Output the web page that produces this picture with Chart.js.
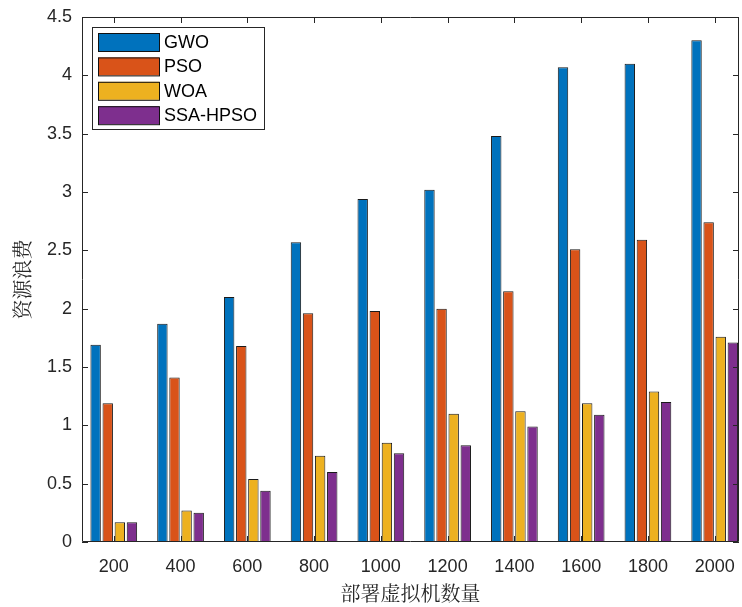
<!DOCTYPE html>
<html>
<head>
<meta charset="utf-8">
<script src="https://cdn.jsdelivr.net/npm/chart.js@4/dist/chart.umd.min.js"></script>
<style>
html,body{margin:0;padding:0;background:#fff;}
#wrap{width:742px;height:607px;}
</style>
</head>
<body>
<div id="wrap"><canvas id="c" width="742" height="607"></canvas></div>
<script>
const categories = [200, 400, 600, 800, 1000, 1200, 1400, 1600, 1800, 2000];
const seriesNames = ['GWO', 'PSO', 'WOA', 'SSA-HPSO'];
const gwo = [1.69, 1.87, 2.10, 2.57, 2.94, 3.02, 3.48, 4.07, 4.10, 4.30];
const pso = [1.19, 1.41, 1.68, 1.96, 1.98, 2.00, 2.15, 2.51, 2.59, 2.74];
const woa = [0.17, 0.27, 0.54, 0.74, 0.85, 1.10, 1.12, 1.19, 1.29, 1.76];
const ssa = [0.17, 0.25, 0.44, 0.60, 0.76, 0.83, 0.99, 1.09, 1.20, 1.71];
const yTicks = [0, 0.5, 1, 1.5, 2, 2.5, 3, 3.5, 4, 4.5];
const colors = ['#0072BD', '#D95319', '#EDB120', '#7E2F8E'];
const yTitle = '资源浪费';
const xTitle = '部署虚拟机数量';

const allSeries = [gwo, pso, woa, ssa];
const TEXT = '#262626';
const FONT = '"Liberation Sans", Arial, Helvetica, sans-serif';
const CJK = '"Noto Serif CJK SC", "Noto Sans CJK SC", serif';

const boxPlugin = {
  id: 'matlabBox',
  afterDraw(chart) {
    const {ctx, chartArea: a, scales} = chart;
    ctx.save();
    ctx.strokeStyle = TEXT;
    ctx.lineWidth = 1;
    ctx.beginPath();
    ctx.rect(a.left + 0.5, a.top + 0.5, a.right - a.left - 1, a.bottom - a.top - 1);
    ctx.stroke();
    const tl = 6;
    ctx.beginPath();
    scales.y.ticks.forEach(t => {
      const py = Math.round(scales.y.getPixelForValue(t.value)) + 0.5;
      ctx.moveTo(a.left, py); ctx.lineTo(a.left + tl, py);
      ctx.moveTo(a.right, py); ctx.lineTo(a.right - tl, py);
    });
    scales.x.ticks.forEach(t => {
      const px = Math.round(scales.x.getPixelForValue(t.value)) + 0.5;
      ctx.moveTo(px, a.bottom); ctx.lineTo(px, a.bottom - tl);
      ctx.moveTo(px, a.top); ctx.lineTo(px, a.top + tl);
    });
    ctx.stroke();

    // legend
    const lx = a.left + 10, ly = a.top + 10;
    const lw = 172, lh = 102;
    ctx.fillStyle = '#fff';
    ctx.fillRect(lx, ly, lw, lh);
    ctx.strokeStyle = TEXT;
    ctx.strokeRect(lx + 0.5, ly + 0.5, lw, lh);
    ctx.font = '18px ' + FONT;
    ctx.textBaseline = 'middle';
    ctx.textAlign = 'left';
    chart.data.datasets.forEach((ds, i) => {
      const sy = ly + 6 + i * 24.4;
      ctx.fillStyle = ds.backgroundColor;
      ctx.fillRect(lx + 6, sy, 61, 18);
      ctx.strokeStyle = '#111';
      ctx.strokeRect(lx + 6.5, sy + 0.5, 61, 18);
      ctx.fillStyle = '#000';
      ctx.fillText(ds.label, lx + 72, sy + 10);
    });
    ctx.restore();
  }
};

new Chart(document.getElementById('c'), {
  type: 'bar',
  data: {
    datasets: allSeries.map((vals, i) => ({
      label: seriesNames[i],
      data: categories.map((c, j) => ({x: c, y: vals[j]})),
      backgroundColor: colors[i],
      borderColor: '#1a1a1a',
      borderWidth: 1,
      borderSkipped: 'bottom',
      categoryPercentage: 0.725,
      barPercentage: 0.86
    }))
  },
  options: {
    responsive: false,
    animation: false,
    events: [],
    layout: {padding: {left: 0, top: 17, right: 3, bottom: 0}},
    plugins: {legend: {display: false}, tooltip: {enabled: false}},
    scales: {
      x: {
        type: 'linear',
        offset: false,
        min: 104.8,
        max: 2072.8,
        afterBuildTicks(scale) { scale.ticks = categories.map(v => ({value: v})); },
        afterFit(scale) { scale.height = 65; scale.paddingLeft = 0; scale.paddingRight = 0; },
        grid: {display: false, drawTicks: false, offset: false},
        border: {display: false},
        ticks: {
          color: TEXT,
          font: {family: FONT, size: 18},
          padding: 14,
          maxRotation: 0,
          autoSkip: false,
          callback: v => String(v)
        },
        title: {
          display: true,
          text: xTitle,
          color: TEXT,
          font: {family: CJK, size: 20},
          padding: {top: 0, bottom: 2}
        }
      },
      y: {
        min: 0,
        max: 4.5,
        afterBuildTicks(scale) { scale.ticks = yTicks.map(v => ({value: v})); },
        afterFit(scale) { scale.width = 82; scale.paddingTop = 0; scale.paddingBottom = 0; },
        grid: {display: false, drawTicks: false},
        border: {display: false},
        ticks: {
          color: TEXT,
          font: {family: FONT, size: 18},
          padding: 10,
          callback: v => String(v)
        },
        title: {
          display: true,
          text: yTitle,
          color: TEXT,
          font: {family: CJK, size: 20},
          padding: {top: 10, bottom: 0}
        }
      }
    }
  },
  plugins: [boxPlugin]
});
</script>
</body>
</html>
